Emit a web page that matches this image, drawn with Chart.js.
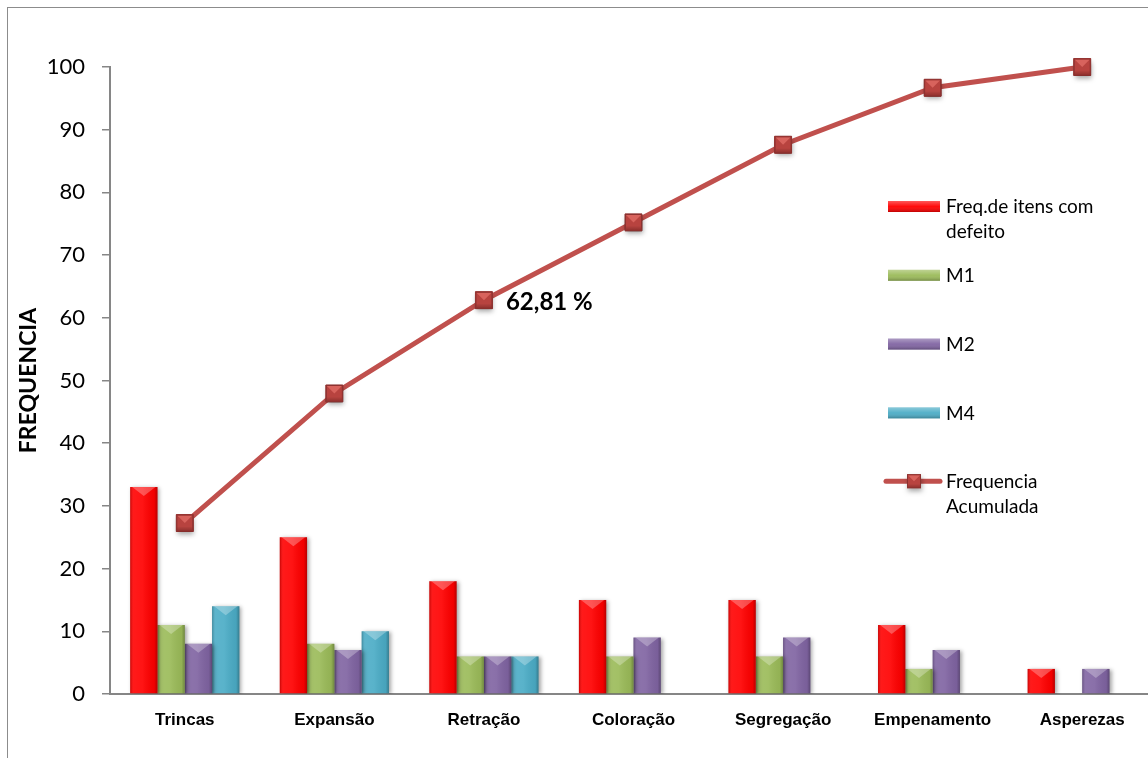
<!DOCTYPE html>
<html lang="pt">
<head>
<meta charset="utf-8">
<script src="https://cdn.jsdelivr.net/npm/chart.js@4/dist/chart.umd.min.js"></script>
<style>
  html, body { margin: 0; padding: 0; background: #fff; overflow: hidden; }
  #wrap { position: relative; width: 1148px; height: 758px; overflow: hidden; }
  #frame { position: absolute; left: 7px; top: 7px; width: 1200px; height: 800px;
           border-left: 1px solid #8c8c8c; border-top: 1px solid #8c8c8c; }
  canvas { position: absolute; left: 0; top: 0; }
</style>
</head>
<body>
<div id="wrap">
  <div id="frame"></div>
  <canvas id="c" width="1170" height="758"></canvas>
</div>
<script>
// Defeitos por categoria e por máquina
const categorias = ['Trincas', 'Expansão', 'Retração', 'Coloração', 'Segregação', 'Empenamento', 'Asperezas'];
const freqDefeitos = [33, 25, 18, 15, 15, 11, 4];
const m1 = [11, 8, 6, 6, 6, 4, null];
const m2 = [8, 7, 6, 9, 9, 7, 4];
const m4 = [14, 10, 6, null, null, null, null];
// Frequência acumulada (%)
const freqAcumulada = [27.27, 47.93, 62.81, 75.21, 87.60, 96.69, 100];
const yTicks = [0, 10, 20, 30, 40, 50, 60, 70, 80, 90, 100];
const pontoRotulado = 2;

const FONT = 'Lato, "Open Sans", sans-serif';
const FONT_X = '"Liberation Sans", Arial, sans-serif';
const AXIS_GRAY = '#868686';
const LINE_RED = '#C0504D';
const MARK_EDGE = '#8c3230';

const barColors = ['#FF0000', '#9BBB59', '#8064A2', '#4BACC6'];

// Square marker with a soft bevel, used on the line and in the legend
function drawMarker(ctx, x, y, s) {
  const l = x - s / 2, t = y - s / 2;
  ctx.save();
  ctx.shadowColor = 'rgba(0,0,0,0.35)';
  ctx.shadowBlur = 5;
  ctx.shadowOffsetX = 1;
  ctx.shadowOffsetY = 3;
  ctx.fillStyle = '#B8433F';
  ctx.fillRect(l, t, s, s);
  ctx.restore();
  ctx.save();
  // darker rim
  const g = ctx.createLinearGradient(0, t, 0, t + s);
  g.addColorStop(0, 'rgba(255,255,255,0)');
  g.addColorStop(0.7, 'rgba(0,0,0,0)');
  g.addColorStop(1, 'rgba(60,0,0,0.3)');
  ctx.fillStyle = g;
  ctx.fillRect(l, t, s, s);
  // lighter top bevel
  ctx.beginPath();
  ctx.moveTo(l + 1, t + 1);
  ctx.lineTo(l + s - 1, t + 1);
  ctx.lineTo(x, y);
  ctx.closePath();
  ctx.fillStyle = 'rgba(255,140,130,0.45)';
  ctx.fill();
  ctx.strokeStyle = MARK_EDGE;
  ctx.lineWidth = 1;
  ctx.strokeRect(l + 0.5, t + 0.5, s - 1, s - 1);
  ctx.restore();
}

// Bevel / shading drawn over each bar, shaded markers over the line
const shading = {
  id: 'shading',
  beforeDatasetDraw(chart, args) {
    if (args.meta.type !== 'bar') return;
    const ctx = chart.ctx;
    ctx.save();
    ctx.shadowColor = 'rgba(0,0,0,0.35)';
    ctx.shadowBlur = 4;
    ctx.shadowOffsetX = 2;
    ctx.shadowOffsetY = 1;
  },
  afterDatasetDraw(chart, args) {
    const ctx = chart.ctx;
    if (args.meta.type === 'line') {
      args.meta.data.forEach(pt => drawMarker(ctx, pt.x, pt.y, 17));
      return;
    }
    if (args.meta.type !== 'bar') return;
    ctx.restore();
    ctx.save();
    const values = chart.data.datasets[args.index].data;
    args.meta.data.forEach((el, i) => {
      if (values[i] == null) return;
      const w = el.width, l = el.x - w / 2, r = el.x + w / 2;
      const top = Math.min(el.y, el.base), bot = Math.max(el.y, el.base);
      const g = ctx.createLinearGradient(l, 0, r, 0);
      g.addColorStop(0, 'rgba(0,0,0,0.22)');
      g.addColorStop(0.12, 'rgba(255,255,255,0.10)');
      g.addColorStop(0.45, 'rgba(255,255,255,0.08)');
      g.addColorStop(0.88, 'rgba(0,0,0,0.05)');
      g.addColorStop(1, 'rgba(0,0,0,0.28)');
      ctx.fillStyle = g;
      ctx.fillRect(l, top, w, bot - top);
      const h = Math.min(9, (bot - top) / 2);
      ctx.beginPath();
      ctx.moveTo(l + 2, top);
      ctx.lineTo(r - 2, top);
      ctx.lineTo(el.x, top + h);
      ctx.closePath();
      ctx.fillStyle = 'rgba(255,255,255,0.28)';
      ctx.fill();
    });
    ctx.restore();
  }
};

// Value label for the highlighted cumulative point
const pontoLabel = {
  id: 'pontoLabel',
  afterDatasetsDraw(chart) {
    const idx = chart.data.datasets.findIndex(d => d.type === 'line');
    const meta = chart.getDatasetMeta(idx);
    const pt = meta.data[pontoRotulado];
    const v = chart.data.datasets[idx].data[pontoRotulado];
    const ctx = chart.ctx;
    ctx.save();
    ctx.font = 'bold 24px ' + FONT;
    ctx.fillStyle = '#000';
    ctx.textAlign = 'left';
    ctx.textBaseline = 'middle';
    ctx.fillText(v.toFixed(2).replace('.', ',') + ' %', pt.x + 22, pt.y + 2);
    ctx.restore();
  }
};

// Legend drawn inside the plot on the right
const legendaInterna = {
  id: 'legendaInterna',
  afterDraw(chart, args, opts) {
    const ctx = chart.ctx;
    const ds = chart.data.datasets;
    ctx.save();
    ctx.font = '19px ' + FONT;
    ctx.textBaseline = 'middle';
    ctx.textAlign = 'left';
    ds.forEach((d, k) => {
      const y = opts.y + k * opts.step;
      const sx = opts.x, sw = 52;
      if (d.type === 'line') {
        ctx.strokeStyle = LINE_RED;
        ctx.lineWidth = 5;
        ctx.lineCap = 'round';
        ctx.beginPath();
        ctx.moveTo(sx - 2, y);
        ctx.lineTo(sx + sw, y);
        ctx.stroke();
        drawMarker(ctx, sx + sw / 2, y, 14);
      } else {
        ctx.fillStyle = d.backgroundColor;
        ctx.fillRect(sx, y - 5, sw, 11);
        const g = ctx.createLinearGradient(0, y - 5, 0, y + 6);
        g.addColorStop(0, 'rgba(255,255,255,0.35)');
        g.addColorStop(0.5, 'rgba(255,255,255,0.05)');
        g.addColorStop(1, 'rgba(0,0,0,0.25)');
        ctx.fillStyle = g;
        ctx.fillRect(sx, y - 5, sw, 11);
      }
      // wrap label text
      const words = d.label.split(' ');
      const lines = [];
      let cur = '';
      words.forEach(w => {
        const t = cur ? cur + ' ' + w : w;
        if (ctx.measureText(t).width > opts.maxW && cur) { lines.push(cur); cur = w; }
        else cur = t;
      });
      lines.push(cur);
      ctx.fillStyle = '#000';
      ctx.textAlign = 'left';
      lines.forEach((ln, j) => ctx.fillText(ln, sx + sw + 6, y + 1 + j * 25));
    });
    ctx.restore();
  }
};

const barDataset = (label, data, color) => ({
  type: 'bar', label, data,
  backgroundColor: color, borderWidth: 0,
  categoryPercentage: 0.73, barPercentage: 1.0, order: 1
});

new Chart(document.getElementById('c'), {
  data: {
    labels: categorias,
    datasets: [
      barDataset('Freq.de itens com defeito', freqDefeitos, barColors[0]),
      barDataset('M1', m1, barColors[1]),
      barDataset('M2', m2, barColors[2]),
      barDataset('M4', m4, barColors[3]),
      {
        type: 'line', label: 'Frequencia Acumulada', data: freqAcumulada,
        borderColor: LINE_RED, borderWidth: 5, tension: 0, clip: false,
        pointStyle: 'rect', pointRadius: 12, pointHoverRadius: 12,
        pointBackgroundColor: LINE_RED, pointBorderColor: MARK_EDGE, pointBorderWidth: 1,
        order: 0
      }
    ]
  },
  options: {
    responsive: false,
    animation: false,
    events: [],
    layout: { padding: { left: 15, right: 0, top: 67, bottom: 0 } },
    plugins: {
      legend: { display: false },
      tooltip: { enabled: false },
      legendaInterna: { x: 888, y: 206, step: 68.8, maxW: 170 }
    },
    scales: {
      x: {
        type: 'category',
        offset: true,
        grid: { display: false, drawTicks: false },
        border: { display: true, color: AXIS_GRAY, width: 2 },
        ticks: { font: { family: FONT_X, size: 17, weight: 'bold' }, color: '#000', padding: 16, maxRotation: 0, autoSkip: false },
        afterFit(s) { s.height = 64; }
      },
      y: {
        min: 0, max: 100,
        afterBuildTicks(s) { s.ticks = yTicks.map(v => ({ value: v })); },
        grid: { display: true, drawOnChartArea: false, drawTicks: true, tickLength: 8, color: AXIS_GRAY, lineWidth: 1.5 },
        border: { display: true, color: AXIS_GRAY, width: 2 },
        ticks: { font: { family: FONT, size: 22 }, color: '#000', padding: 17 },
        title: { display: true, text: 'FREQUENCIA', font: { family: FONT, size: 23, weight: 'bold' }, color: '#000', padding: 0 },
        afterFit(s) { s.width = 95; }
      }
    }
  },
  plugins: [shading, pontoLabel, legendaInterna]
});
</script>
</body>
</html>
